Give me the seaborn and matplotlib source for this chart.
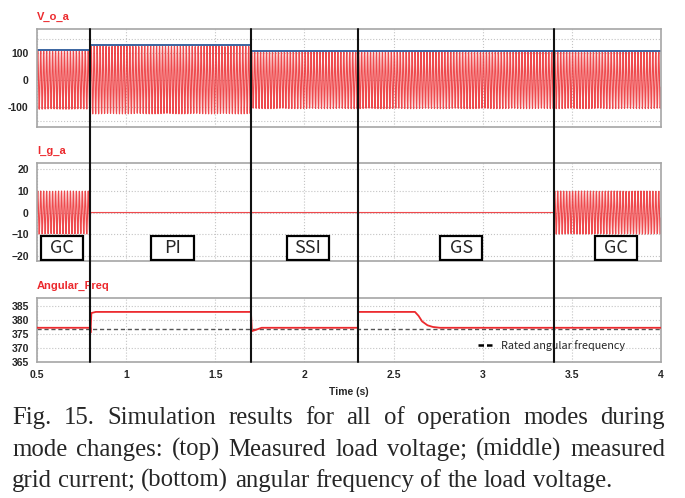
import numpy as np
import pandas as pd
import matplotlib
matplotlib.use("Agg")
import matplotlib.pyplot as plt
import seaborn as sns
from matplotlib import font_manager
from matplotlib.patches import Rectangle
from matplotlib.lines import Line2D
from matplotlib.transforms import blended_transform_factory

# ---- data ----
mode_change_t = [0.8, 1.7, 2.3, 3.4]
mode_labels = ["GC", "PI", "SSI", "GS", "GC"]
mode_label_t = [0.64, 1.26, 2.02, 2.88, 3.75]

grid_freq_hz = 60.0
sample_dt = 1.035e-3  # coarse scope sampling, gives the moire look

# load voltage: segment edges, peak amplitude, blue peak-envelope level
v_edges = [0.5, 0.8, 1.7, 4.0]
v_amp = [107, 124, 105]
v_env = [111, 128, 107]

# grid current: segment edges and amplitude
i_edges = [0.5, 0.8, 3.4, 4.0]
i_amp = [10, 0, 10]

# angular frequency trace
w_t = [0.5, 0.799, 0.8, 0.805, 0.83, 1.7, 1.705, 1.725, 1.76, 2.3, 2.301,
       2.62, 2.64, 2.66, 2.69, 2.72, 2.76, 4.0]
w_val = [377.3, 377.3, 375.5, 382.6, 383.0, 383.0, 376.1, 376.5, 377.3, 377.3, 383.0,
         383.0, 381.6, 379.6, 378.2, 377.6, 377.3, 377.3]
w_rated = 377.0

x_ticks = [0.5, 1, 1.5, 2, 2.5, 3, 3.5, 4]
x_ticklabels = ["0.5", "1", "1.5", "2", "2.5", "3", "3.5", "4"]

caption_lines = [
    "Fig. 15. Simulation results for all of operation modes during",
    "mode changes: (top) Measured load voltage; (middle) measured",
    "grid current; (bottom) angular frequency of the load voltage.",
]

# ---- style ----
sns.set_style("white")
names = {f.name for f in font_manager.fontManager.ttflist}
narrow = "Liberation Sans Narrow" if "Liberation Sans Narrow" in names else "Liberation Sans"
plt.rcParams["font.family"] = [narrow, "DejaVu Sans"]
RED = "#ec2a2e"
GRID = "#c4c4c4"
SPINE = "#a6a6a6"

W, H = 685, 498
fig = plt.figure(figsize=(W / 100, H / 100), dpi=100)


def px_axes(x0, y0, x1, y1):
    return fig.add_axes([x0 / W, 1 - y1 / H, (x1 - x0) / W, (y1 - y0) / H])


ax1 = px_axes(37, 29, 661, 127)
ax2 = px_axes(37, 163, 661, 261)
ax3 = px_axes(37, 298, 661, 362)


def step_values(t, edges, vals):
    idx = np.clip(np.searchsorted(edges, t, side="right") - 1, 0, len(vals) - 1)
    return np.asarray(vals, dtype=float)[idx]


t = np.arange(0.5, 4.0, sample_dt)
phase = np.sin(2 * np.pi * grid_freq_hz * t)
vo = pd.DataFrame({"t": t, "v": step_values(t, v_edges, v_amp) * phase})
ig = pd.DataFrame({"t": t, "i": step_values(t, i_edges, i_amp) * phase})

# top: load voltage
sns.lineplot(data=vo, x="t", y="v", ax=ax1, color=RED, lw=0.85, alpha=0.85,
             estimator=None, sort=False)
env_t = np.repeat(v_edges, 2)[1:-1]
env_v = np.repeat(v_env, 2)
sns.lineplot(x=env_t, y=env_v, ax=ax1, color="#3a64a0", lw=1.4, estimator=None, sort=False)
ax1.set_ylim(-172, 186)
ax1.set_yticks([-150, -100, 0, 100, 150])
ax1.set_yticklabels(["", "-100", "0", "100", ""])

# middle: grid current
sns.lineplot(data=ig, x="t", y="i", ax=ax2, color=RED, lw=0.85, alpha=0.85,
             estimator=None, sort=False)
ax2.set_ylim(-22.5, 23)
ax2.set_yticks([-20, -10, 0, 10, 20])

# bottom: angular frequency
ax3.axhline(w_rated, color="#555555", lw=1.0, ls=(0, (3, 2)), zorder=1)
sns.lineplot(x=w_t, y=w_val, ax=ax3, color=RED, lw=1.3, estimator=None, sort=False, zorder=3)
ax3.set_ylim(365, 388)
ax3.set_yticks([365, 370, 375, 380, 385])
ax3.set_xlabel("Time (s)", fontsize=7.5, fontweight="bold", labelpad=5)

for ax, title in [(ax1, "V_o_a"), (ax2, "I_g_a"), (ax3, "Angular_Freq")]:
    ax.set_xlim(0.5, 4.0)
    ax.set_xticks(x_ticks)
    ax.set_xticklabels(x_ticklabels)
    ax.set_ylabel("")
    if ax is not ax3:
        ax.set_xlabel("")
        ax.tick_params(axis="x", labelbottom=False)
    ax.grid(True, color=GRID, ls=":", lw=0.8)
    ax.tick_params(length=0, labelsize=7.5, pad=6)
    for lab in ax.get_xticklabels() + ax.get_yticklabels():
        lab.set_fontweight("bold")
    for s in ax.spines.values():
        s.set_color(SPINE)
        s.set_linewidth(1.2)
    ax.annotate(title, xy=(0, 1), xycoords="axes fraction", xytext=(0, 5),
                textcoords="offset points", color=RED, fontsize=8,
                fontweight="bold", ha="left", va="bottom")

# legend in bottom panel
ax3.legend(handles=[Line2D([], [], color="black", lw=1.8, ls=(0, (2.2, 1.2)))],
           labels=["Rated angular frequency"], loc="center left",
           bbox_to_anchor=(0.7, 0.26), frameon=False, handlelength=1.6,
           handletextpad=0.5, borderaxespad=0,
           prop={"family": ["Noto Sans CJK KR", "DejaVu Sans"], "size": 7.8})

# mode boxes in middle panel
box_w = 42 / 178
box_tr = blended_transform_factory(ax2.transData, ax2.transAxes)
for lab, xc in zip(mode_labels, mode_label_t):
    ax2.add_patch(Rectangle((xc - box_w / 2, 0.012), box_w, 0.243, transform=box_tr,
                            facecolor="white", edgecolor="black", lw=1.6, zorder=5))
    ax2.text(xc, 0.13, lab, transform=box_tr, ha="center", va="center", fontsize=13,
             family=["Noto Sans CJK KR", "DejaVu Sans"], zorder=6)

# vertical mode-change lines through all panels
vtr = blended_transform_factory(ax3.transData, fig.transFigure)
for tc in mode_change_t:
    fig.add_artist(Line2D([tc, tc], [1 - 29 / H, 1 - 362 / H], transform=vtr,
                          color="#111111", lw=1.5, zorder=10))

# caption, justified like the paper
serif = ["Liberation Serif", "DejaVu Serif"]
renderer = fig.canvas.get_renderer()
probe = fig.text(0, 0, caption_lines[2], family=serif, fontsize=18)
scale = 601 / probe.get_window_extent(renderer).width
probe.remove()
cap_size = 18 * scale
space = fig.text(0, 0, "a a", family=serif, fontsize=cap_size)
space_w = space.get_window_extent(renderer).width
space.set_text("aa")
space_w -= space.get_window_extent(renderer).width
space.remove()
baselines = [424, 456, 487]
for k, (line, yb) in enumerate(zip(caption_lines, baselines)):
    words = line.split(" ")
    texts = [fig.text(0, 1 - yb / H, w, family=serif, fontsize=cap_size, va="baseline")
             for w in words]
    widths = [tx.get_window_extent(renderer).width for tx in texts]
    if k < 2:
        gap = (665 - 12 - sum(widths)) / (len(words) - 1)
    else:
        gap = space_w
    x = 12.0
    for tx, wd in zip(texts, widths):
        tx.set_x(x / W)
        x += wd + gap

fig.savefig("out.png", dpi=100)
